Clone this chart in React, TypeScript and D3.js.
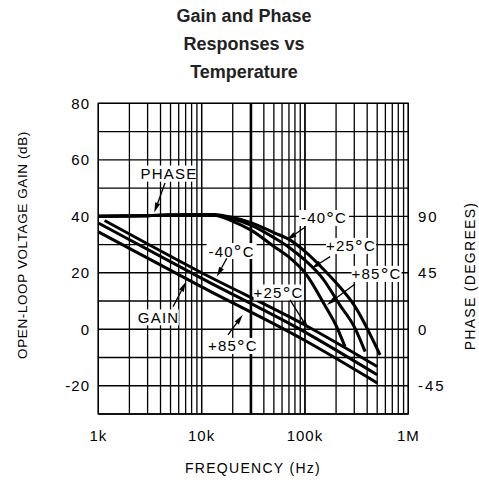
import React from "react";
import * as d3 from "d3";

const titleLines = ["Gain and Phase", "Responses vs", "Temperature"];
const gainTicks = [-20, 0, 20, 40, 60, 80];
const phaseTicks = [-45, 0, 45, 90];
const freqTicks = [1e3, 1e4, 1e5, 1e6];
const freqTickLabels = ["1k", "10k", "100k", "1M"];

// Gain curves (Hz, dB)
const gainM40: [number, number][] = [[1150, 38.5], [10000, 20.0], [100000, 1.5], [500000, -13.2]];
const gainP25: [number, number][] = [[1000, 37.6], [10000, 18.0], [100000, -1.0], [500000, -16.1]];
const gainP85: [number, number][] = [[1000, 34.5], [10000, 15.0], [100000, -4.0], [500000, -19.0]];

// Phase curves (Hz, degrees)
const phaseM40: [number, number][] = [[1000, 90], [3000, 90.5], [10000, 91.5], [13000, 91.4], [20000, 89], [30000, 85], [50000, 77], [72000, 71], [100000, 62], [150000, 48], [200000, 37], [300000, 19], [533000, -20.5]];
const phaseP25: [number, number][] = [[1000, 90], [3000, 90.5], [10000, 91.5], [13000, 91.2], [20000, 88], [30000, 83], [50000, 73], [72000, 64.6], [100000, 55], [150000, 40], [217000, 19.4], [300000, 2], [382000, -17.8]];
const phaseP85: [number, number][] = [[1000, 90], [3000, 90.5], [10000, 91.5], [13000, 91], [20000, 86], [30000, 79], [50000, 66], [72000, 56.6], [100000, 45], [155000, 19.4], [200000, 3], [244000, -13.9]];

// Annotations: label text, label centre (Hz, dB), arrow start (Hz, dB), arrow tip (Hz, dB)
const annText = ["PHASE", "GAIN", "-40", "+85", "+25", "-40", "+25", "+85"];
const annIsTemp = [false, false, true, true, true, true, true, true];
const annCenters: [number, number][] = [[4830, 55.1], [3830, 4.2], [19500, 27.7], [20100, -5.9], [55500, 13.0], [153000, 39.4], [279000, 29.5], [493000, 19.6]];
const annFrom: [number, number][] = [[4420, 51.8], [5290, 8.0], [17500, 25.1], [18000, -2.0], [71700, 10.4], [100000, 36.1], [175000, 25.7], [305000, 16.0]];
const annTo: [number, number][] = [[3480, 41.3], [7060, 16.8], [14000, 18.6], [25000, 5.1], [108000, 0.0], [66600, 31.6], [116000, 21.6], [163000, 8.6]];

const W = 479, H = 488;
const L = 98.3, R = 408.3, T = 103.3, B = 414;

export default function App() {
  const x = d3.scaleLog().domain([1e3, 1e6]).range([L, R]);
  const y = d3.scaleLinear().domain([-30, 80]).range([B, T]);
  const yp = d3.scaleLinear().domain([-67.5, 180]).range([B, T]);

  const minorX: number[] = [];
  for (let dec = 1e3; dec < 1e6; dec *= 10) for (let k = 1; k <= 10; k++) minorX.push(dec * k);
  const hLines = d3.range(-30, 81, 10);

  const gLine = d3.line<[number, number]>().x(d => x(d[0])).y(d => y(d[1])).curve(d3.curveMonotoneX);
  const pLine = d3.line<[number, number]>().x(d => x(d[0])).y(d => yp(d[1])).curve(d3.curveMonotoneX);

  const font = "'Liberation Sans', Arial, sans-serif";

  const arrow = (x1: number, y1: number, x2: number, y2: number, key: string) => {
    const ang = Math.atan2(y2 - y1, x2 - x1);
    const len = 10, hw = 2.6;
    const bx = x2 - len * Math.cos(ang), by = y2 - len * Math.sin(ang);
    const px = -Math.sin(ang) * hw, py = Math.cos(ang) * hw;
    return (
      <g key={key}>
        <line x1={x1} y1={y1} x2={bx} y2={by} stroke="#000" strokeWidth={1.3} />
        <path d={`M${x2},${y2}L${bx + px},${by + py}L${bx - px},${by - py}Z`} fill="#000" />
      </g>
    );
  };

  return (
    <svg width={W} height={H} style={{ position: "absolute", left: 0, top: 0, background: "#fff" }}>
      {titleLines.map((t, i) => (
        <text key={t} x={244} y={22 + i * 28} textAnchor="middle" fontFamily={font} fontWeight="bold" fontSize={18} fill="#222">{t}</text>
      ))}
      {/* grid */}
      {hLines.map(v => (
        <line key={"h" + v} x1={L} x2={R} y1={y(v)} y2={y(v)} stroke="#000" strokeWidth={1.3} />
      ))}
      {minorX.map(f => (
        <line key={"v" + f} x1={x(f)} x2={x(f)} y1={T} y2={B} stroke="#000" strokeWidth={Math.abs(f - 3e4) < 1 ? 2.6 : 1.3} />
      ))}
      <rect x={L} y={T} width={R - L} height={B - T} fill="none" stroke="#000" strokeWidth={1.4} />

      {/* curves */}
      {[gainM40, gainP25, gainP85].map((d, i) => (
        <path key={"g" + i} d={gLine(d) || ""} fill="none" stroke="#000" strokeWidth={3} />
      ))}
      {[phaseM40, phaseP25, phaseP85].map((d, i) => (
        <path key={"p" + i} d={pLine(d) || ""} fill="none" stroke="#000" strokeWidth={3} />
      ))}

      {/* annotations */}
      {annText.map((t, i) => {
        const cx = x(annCenters[i][0]), cy = y(annCenters[i][1]);
        const w = (annIsTemp[i] ? 5 : t.length) * 9.6 + 2;
        return (
          <g key={"a" + i}>
            <rect x={cx - w / 2} y={cy - 8} width={w} height={16} fill="#fff" />
            <text x={cx} y={cy + 5.5} textAnchor="middle" fontFamily={font} fontSize={15} letterSpacing={1.2} fill="#000">
              {t}
              {annIsTemp[i] ? <tspan fontSize={19} dy={1.5}>°</tspan> : null}
              {annIsTemp[i] ? <tspan dy={-1.5}>C</tspan> : null}
            </text>
          </g>
        );
      })}
      {annText.map((t, i) => arrow(x(annFrom[i][0]), y(annFrom[i][1]), x(annTo[i][0]), y(annTo[i][1]), "ar" + i))}

      {/* left ticks */}
      {gainTicks.map(v => (
        <text key={"lt" + v} x={90} y={y(v) + 5.5} textAnchor="end" fontFamily={font} fontSize={15} letterSpacing={1} fill="#000">{v}</text>
      ))}
      {phaseTicks.map(v => (
        <text key={"rt" + v} x={418} y={yp(v) + 5.5} textAnchor="start" fontFamily={font} fontSize={15} letterSpacing={2} fill="#000">{v}</text>
      ))}
      {freqTicks.map((f, i) => (
        <text key={"bt" + f} x={x(f)} y={441} textAnchor="middle" fontFamily={font} fontSize={15} letterSpacing={1} fill="#000">{freqTickLabels[i]}</text>
      ))}
      <text x={253} y={473} textAnchor="middle" fontFamily={font} fontSize={14} letterSpacing={1.3} fill="#000">FREQUENCY (Hz)</text>
      <text transform={`translate(27,245) rotate(-90)`} textAnchor="middle" fontFamily={font} fontSize={13.5} letterSpacing={0.6} fill="#000">OPEN-LOOP VOLTAGE GAIN (dB)</text>
      <text transform={`translate(475,276) rotate(-90)`} textAnchor="middle" fontFamily={font} fontSize={14} letterSpacing={1.3} fill="#000">PHASE (DEGREES)</text>
    </svg>
  );
}
